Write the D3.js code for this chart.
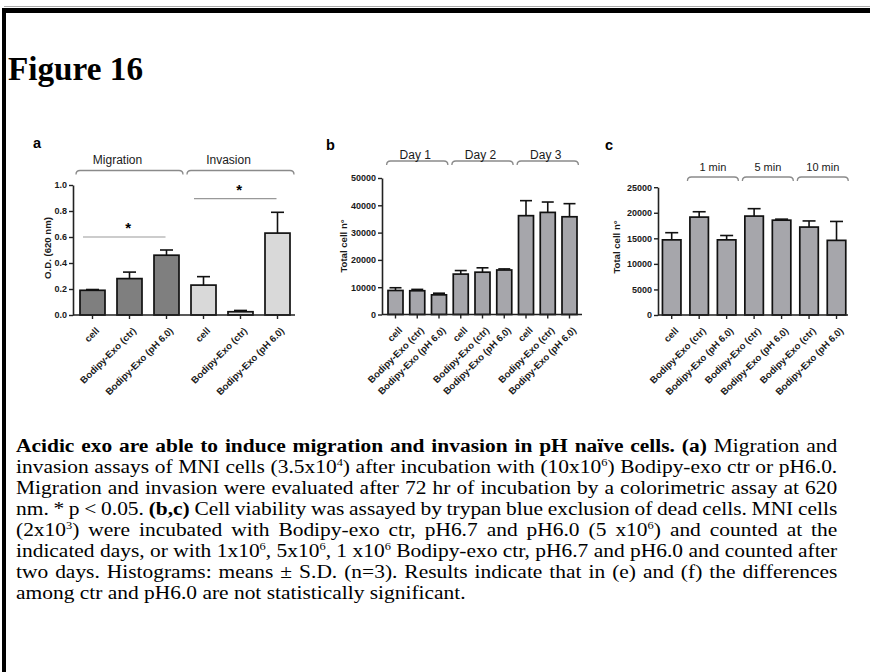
<!DOCTYPE html>
<html><head><meta charset="utf-8">
<script src="https://cdn.jsdelivr.net/npm/d3@7"></script>
<style>body{margin:0;background:#fff}svg{display:block}</style>
</head><body>
<svg id="fig" width="870" height="672"></svg>
<script>
// ---------- data ----------
const aCategories = ["cell","Bodipy-Exo (ctr)","Bodipy-Exo (pH 6.0)","cell","Bodipy-Exo (ctr)","Bodipy-Exo (pH 6.0)"];
const aValues = [0.19, 0.28, 0.46, 0.23, 0.025, 0.63];
const aErrors = [0.006, 0.05, 0.04, 0.065, 0.01, 0.16];
const aSeriesIndex = [0,0,0,1,1,1];
const aGroups = [{name:"Migration", from:0, to:2},{name:"Invasion", from:3, to:5}];
const aSignificance = [{from:0, to:2, level:0.60},{from:3, to:5, level:0.895}];
const aTicks = [0,0.2,0.4,0.6,0.8,1.0];

const bCategories = ["cell","Bodipy-Exo (ctr)","Bodipy-Exo (pH 6.0)","cell","Bodipy-Exo (ctr)","Bodipy-Exo (pH 6.0)","cell","Bodipy-Exo (ctr)","Bodipy-Exo (pH 6.0)"];
const bValues = [8800, 8700, 7200, 14800, 15500, 16300, 36200, 37400, 35800];
const bErrors = [1000, 500, 600, 1300, 1600, 400, 5500, 3800, 4800];
const bGroups = [{name:"Day 1", from:0, to:2},{name:"Day 2", from:3, to:5},{name:"Day 3", from:6, to:8}];
const bTicks = [0,10000,20000,30000,40000,50000];

const cCategories = ["cell","Bodipy-Exo (ctr)","Bodipy-Exo (pH 6.0)","Bodipy-Exo (ctr)","Bodipy-Exo (pH 6.0)","Bodipy-Exo (ctr)","Bodipy-Exo (pH 6.0)"];
const cValues = [14700, 19150, 14700, 19350, 18550, 17200, 14600];
const cErrors = [1400, 1050, 850, 1450, 200, 1200, 3700];
const cGroups = [{name:"1 min", from:1, to:2},{name:"5 min", from:3, to:4},{name:"10 min", from:5, to:6}];
const cTicks = [0,5000,10000,15000,20000,25000];

const titleText = "Figure 16";
const captionLines = [
 [["b","Acidic exo are able to induce migration and invasion in pH naïve cells. (a)"],["n"," Migration and"]],
 [["n","invasion assays of MNI cells (3.5x10"],["s","4"],["n",") after incubation with (10x10"],["s","6"],["n",") Bodipy-exo ctr or pH6.0."]],
 [["n","Migration and invasion were evaluated after 72 hr of incubation by a colorimetric assay at 620"]],
 [["n","nm. * p < 0.05. "],["b","(b,c)"],["n"," Cell viability was assayed by trypan blue exclusion of dead cells. MNI cells"]],
 [["n","(2x10"],["s","3"],["n",") were incubated with Bodipy-exo ctr, pH6.7 and pH6.0 (5 x10"],["s","6"],["n",") and counted at the"]],
 [["n","indicated days, or with 1x10"],["s","6"],["n",", 5x10"],["s","6"],["n",", 1 x10"],["s","6"],["n"," Bodipy-exo ctr, pH6.7 and pH6.0 and counted after"]],
 [["n","two days. Histograms: means ± S.D. (n=3). Results indicate that in (e) and (f) the differences"]],
 [["n","among ctr and pH6.0 are not statistically significant."]]
];

// ---------- drawing ----------
const SANS = "'Liberation Sans', Arial, sans-serif";
const SERIF = "'Liberation Serif', 'Times New Roman', serif";
const svg = d3.select("#fig");
svg.append("rect").attr("width",870).attr("height",672).attr("fill","#fff");
svg.append("line").attr("x1",4).attr("x2",870).attr("y1",6.5).attr("y2",6.5).attr("stroke","#aaa").attr("stroke-width",1);
svg.append("rect").attr("x",2).attr("y",8).attr("width",868).attr("height",5).attr("fill","#000");
svg.append("rect").attr("x",2).attr("y",8).attr("width",4).attr("height",664).attr("fill","#000");

svg.append("text").attr("x",8).attr("y",80).text(titleText)
  .attr("font-family",SERIF).attr("font-weight","bold").attr("font-size",34)
  .attr("textLength",135).attr("lengthAdjust","spacingAndGlyphs");

function drawPanel(o){
  const g = svg.append("g");
  const n = o.values.length;
  const pi = 1 - o.bw/o.step;
  const x = d3.scaleBand().domain(d3.range(n))
    .range([o.c0 - o.step/2, o.c0 + o.step*(n-0.5)])
    .paddingInner(pi).paddingOuter(pi/2);
  const y = d3.scaleLinear().domain([0,o.max]).range([o.y0,o.y1]);
  const bw = x.bandwidth();

  // error bars (upper)
  const eg = g.append("g").attr("stroke","#111").attr("stroke-width",1.6).attr("fill","none");
  o.values.forEach((v,i)=>{
    const cx = x(i)+bw/2, top = y(v+o.errors[i]);
    eg.append("line").attr("x1",cx).attr("x2",cx).attr("y1",y(v)).attr("y2",top);
    eg.append("line").attr("x1",cx-o.cap/2).attr("x2",cx+o.cap/2).attr("y1",top).attr("y2",top);
  });
  // bars
  g.append("g").selectAll("rect").data(o.values).join("rect")
    .attr("x",(d,i)=>x(i)).attr("y",d=>y(d))
    .attr("width",bw).attr("height",d=>y(0)-y(d))
    .attr("fill",(d,i)=>o.fill(i)).attr("stroke","#111").attr("stroke-width",1.7);

  // y axis
  const ya = d3.axisLeft(y).tickValues(o.ticks).tickSize(4).tickSizeOuter(0).tickFormat(o.fmt);
  const gy = g.append("g").attr("transform",`translate(${o.ax},0)`).call(ya);
  gy.select(".domain").attr("stroke","#222").attr("stroke-width",1.6);
  gy.selectAll(".tick line").attr("stroke","#222").attr("stroke-width",1.4);
  gy.selectAll(".tick text").attr("font-family",SANS).attr("font-weight","bold")
    .attr("font-size",9).attr("fill","#1a1a1a").attr("x",-6);

  // x axis
  g.append("line").attr("x1",o.ax).attr("x2",o.axEnd).attr("y1",y(0)).attr("y2",y(0))
    .attr("stroke","#222").attr("stroke-width",1.6);
  const xa = d3.axisBottom(x).tickSize(4).tickFormat(i=>o.cats[i]);
  const gx = g.append("g").attr("transform",`translate(0,${y(0)})`).call(xa);
  gx.select(".domain").remove();
  gx.selectAll(".tick line").attr("stroke","#222").attr("stroke-width",1.4);
  gx.selectAll(".tick text").attr("font-family",SANS).attr("font-weight","bold")
    .attr("font-size",9.6).attr("fill","#1a1a1a")
    .attr("x",0).attr("y",0).attr("dy","0.35em").attr("text-anchor","end")
    .attr("transform","translate(5,14) rotate(-45)");

  // y title
  g.append("text").attr("transform",`translate(${o.titleX},${o.titleY}) rotate(-90)`)
    .attr("text-anchor","middle").attr("font-family",SANS).attr("font-weight","bold")
    .attr("font-size",9.6).attr("fill","#1a1a1a").text(o.title);

  // panel letter
  g.append("text").attr("x",o.labelX).attr("y",o.labelY).text(o.label)
    .attr("font-family",SANS).attr("font-weight","bold").attr("font-size",14.5);

  // group brackets
  o.groups.forEach(gr=>{
    const x0 = x(gr.from)+bw/2 - o.step/2 + 2;
    const x1 = x(gr.to)+bw/2 + o.step/2 - 2;
    const yb = o.bracketY;
    g.append("path").attr("d",`M${x0},${yb+4} Q${x0},${yb} ${x0+4},${yb} L${x1-4},${yb} Q${x1},${yb} ${x1},${yb+4}`)
      .attr("fill","none").attr("stroke","#8a8a8a").attr("stroke-width",1.3);
    g.append("text").attr("x",(x0+x1)/2 + o.groupDx).attr("y",o.groupY).attr("text-anchor","middle")
      .attr("font-family",SANS).attr("font-size",o.groupSize).attr("fill","#1a1a1a").text(gr.name);
  });

  // significance
  (o.sig||[]).forEach(s=>{
    const x0 = x(s.from)+3, x1 = x(s.to)+bw/2 - 1;
    g.append("line").attr("x1",x0).attr("x2",x1).attr("y1",y(s.level)).attr("y2",y(s.level))
      .attr("stroke","#999").attr("stroke-width",1.2);
    g.append("text").attr("x",(x0+x1)/2+4).attr("y",y(s.level)-4).attr("text-anchor","middle")
      .attr("font-family",SANS).attr("font-weight","bold").attr("font-size",15).text("*");
  });
}

drawPanel({values:aValues, errors:aErrors, cats:aCategories, groups:aGroups, sig:aSignificance,
  fill:i=>["#7f7f7f","#d9d9d9"][aSeriesIndex[i]],
  ax:73, axEnd:295, c0:92.5, step:37, bw:25, cap:13,
  y0:315, y1:185, max:1.0, ticks:aTicks, fmt:d3.format(".1f"),
  title:"O.D. (620 nm)", titleX:51, titleY:248, label:"a", labelX:33, labelY:148,
  bracketY:170.5, groupY:163.5, groupSize:12, groupDx:-12});

drawPanel({values:bValues, errors:bErrors, cats:bCategories, groups:bGroups,
  fill:()=>"#a6a6ab",
  ax:382, axEnd:582, c0:395.5, step:21.75, bw:15, cap:12,
  y0:314.5, y1:178, max:50000, ticks:bTicks, fmt:d=>d,
  title:"Total cell n°", titleX:347, titleY:246, label:"b", labelX:326, labelY:150,
  bracketY:161, groupY:158.5, groupSize:12, groupDx:-2});

drawPanel({values:cValues, errors:cErrors, cats:cCategories, groups:cGroups,
  fill:()=>"#a6a6ab",
  ax:658, axEnd:848, c0:671.7, step:27.47, bw:18.5, cap:13,
  y0:315, y1:187.2, max:25000, ticks:cTicks, fmt:d=>d,
  title:"Total cell n°", titleX:620, titleY:247, label:"c", labelX:605, labelY:150,
  bracketY:177, groupY:170.5, groupSize:11, groupDx:0});

// ---------- caption ----------
const capX = 16, capFull = 822, capLast = 450, capBase0 = 452, capLead = 21;
const capG = svg.append("g").attr("font-family",SERIF).attr("font-size",19).attr("fill","#000");
const capTexts = captionLines.map((line,li)=>{
  const t = capG.append("text").attr("x",0).attr("y",0).style("white-space","pre");
  line.forEach((seg,si)=>{
    const ts = t.append("tspan").text(seg[1]);
    if(seg[0]==="b") ts.attr("font-weight","bold");
    if(seg[0]==="s") ts.attr("font-size",11).attr("dy",-7);
    if(si>0 && line[si-1][0]==="s") ts.attr("dy",7);
  });
  return t;
});
const nat = capTexts.map(t=>t.node().getComputedTextLength());
const cond = capLast / nat[nat.length-1];
capTexts.forEach((t,i)=>{
  const str = captionLines[i].map(s=>s[1]).join("");
  const nsp = (str.match(/ /g)||[]).length;
  if(i < capTexts.length-1){
    const ws = (capFull/cond - nat[i]) / nsp;
    t.style("word-spacing", ws+"px");
  }
  t.attr("transform",`translate(${capX},${capBase0 + i*capLead}) scale(${cond},1)`);
});
</script>
</body></html>
